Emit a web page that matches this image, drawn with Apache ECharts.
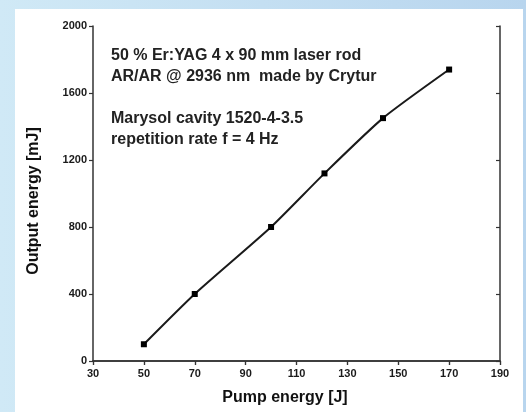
<!DOCTYPE html>
<html>
<head>
<meta charset="utf-8">
<script src="https://cdn.jsdelivr.net/npm/echarts@6/dist/echarts.min.js"></script>
<style>
  html, body { margin: 0; padding: 0; }
  #chart { width: 526px; height: 412px; }
</style>
</head>
<body>
<div id="chart"></div>
<script>
// pump energy [J] and output energy [mJ]
const pumpEnergy = [50, 70, 100, 121, 144, 170]
const outputEnergy = [100, 400, 800, 1120, 1450, 1740]
const xTicks = [30, 50, 70, 90, 110, 130, 150, 170, 190]
const yTicks = [0, 400, 800, 1200, 1600, 2000]
const notes = [
  '50 % Er:YAG 4 x 90 mm laser rod',
  'AR/AR @ 2936 nm  made by Crytur',
  '',
  'Marysol cavity 1520-4-3.5',
  'repetition rate f = 4 Hz',
]

const ink = '#1a1a1a'
const axisColor = '#333'
const tickFont = { color: '#1a1a1a', fontSize: 11, fontWeight: 'bold', fontFamily: 'Liberation Sans' }

const chart = echarts.init(document.getElementById('chart'))

const option = {
  backgroundColor: new echarts.graphic.LinearGradient(0, 0, 1, 0, [
    { offset: 0, color: '#d0e9f6' },
    { offset: 1, color: '#b8d5ee' },
  ]),
  animation: false,
  graphic: [
    // white panel behind the plot
    { type: 'rect', z: -10, shape: { x: 15, y: 9, width: 508, height: 403 }, style: { fill: '#ffffff' } },
    {
      type: 'text', left: 111, top: 45,
      style: {
        text: notes.join('\n'), fill: '#222', font: 'bold 16px "Liberation Sans"', lineHeight: 21,
      },
    },
    {
      type: 'text', x: 34, y: 201, rotation: Math.PI / 2,
      style: { text: 'Output energy [mJ]', fill: '#111', font: 'bold 16px "Liberation Sans"', align: 'center', verticalAlign: 'middle' },
    },
    {
      type: 'text', x: 285, y: 398,
      style: { text: 'Pump energy [J]', fill: '#111', font: 'bold 16px "Liberation Sans"', align: 'center', verticalAlign: 'middle' },
    },
  ],
  grid: { left: 93, right: 26, top: 26, bottom: 51 },
  xAxis: [
    {
      type: 'value', min: xTicks[0], max: xTicks[xTicks.length - 1], interval: 20,
      axisLine: { lineStyle: { color: axisColor, width: 1.5 } },
      axisTick: { length: 4, lineStyle: { color: axisColor, width: 1.2 } },
      axisLabel: { ...tickFont, margin: 7, formatter: (v) => String(v) },
      splitLine: { show: false },
    },
    {
      type: 'value', position: 'top', min: xTicks[0], max: xTicks[xTicks.length - 1], interval: 20,
      axisLine: { lineStyle: { color: axisColor, width: 1.5 } },
      axisTick: { inside: true, length: 4, lineStyle: { color: axisColor, width: 1.2 } },
      axisLabel: { show: false },
      splitLine: { show: false },
    },
  ],
  yAxis: [
    {
      type: 'value', min: yTicks[0], max: yTicks[yTicks.length - 1], interval: 400,
      axisLine: { show: true, lineStyle: { color: axisColor, width: 1.5 } },
      axisTick: { show: true, length: 4, lineStyle: { color: axisColor, width: 1.2 } },
      axisLabel: { ...tickFont, margin: 6, formatter: (v) => String(v) },
      splitLine: { show: false },
    },
    {
      type: 'value', position: 'right', min: yTicks[0], max: yTicks[yTicks.length - 1], interval: 400,
      axisLine: { show: true, lineStyle: { color: axisColor, width: 1.5 } },
      axisTick: { show: true, inside: true, length: 4, lineStyle: { color: axisColor, width: 1.2 } },
      axisLabel: { show: false },
      splitLine: { show: false },
    },
  ],
  series: [
    {
      type: 'line',
      data: pumpEnergy.map((x, i) => [x, outputEnergy[i]]),
      smooth: 0.2,
      symbol: 'rect',
      symbolSize: 6,
      lineStyle: { color: ink, width: 2 },
      itemStyle: { color: '#000' },
    },
  ],
}

chart.setOption(option)
</script>
</body>
</html>
